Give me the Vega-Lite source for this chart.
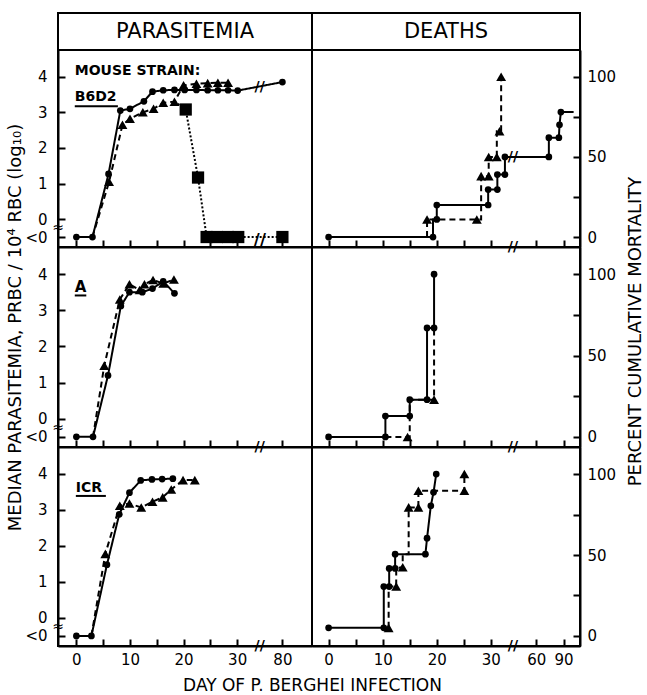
{
  "$schema": "https://vega.github.io/schema/vega-lite/v6.json",
  "padding": {"left": 5, "top": 12, "right": 2, "bottom": 2},
  "background": "white",
  "config": {
    "font": "DejaVu Sans",
    "view": {"stroke": "black", "strokeWidth": 2},
    "concat": {"spacing": 0},
    "axis": {"domainColor": "black", "domainWidth": 2, "tickColor": "black", "tickWidth": 2, "tickSize": -7, "labelColor": "black", "labelFont": "DejaVu Sans", "labelFontSize": 15, "titleColor": "black", "titleFont": "DejaVu Sans", "titleFontWeight": "normal", "grid": false, "labelOverlap": false, "labelSeparation": -100, "labelFlush": false},
    "axisBottom": {"labelPadding": 13},
    "axisLeft": {"labelPadding": 18},
    "axisRight": {"labelPadding": 14}
  },
  "datasets": {
    "obs": [
      {"s":"B6D2","p":"P","g":"circle","i":1,"day":0,"v":-0.5,"o":true},
      {"s":"B6D2","p":"P","g":"circle","i":2,"day":3,"v":-0.5,"o":true},
      {"s":"B6D2","p":"P","g":"circle","i":3,"day":6,"v":1.27,"o":true},
      {"s":"B6D2","p":"P","g":"circle","i":4,"day":8.2,"v":3.05,"o":true},
      {"s":"B6D2","p":"P","g":"circle","i":5,"day":10,"v":3.1,"o":true},
      {"s":"B6D2","p":"P","g":"circle","i":6,"day":12.6,"v":3.31,"o":true},
      {"s":"B6D2","p":"P","g":"circle","i":7,"day":14.2,"v":3.58,"o":true},
      {"s":"B6D2","p":"P","g":"circle","i":8,"day":16.2,"v":3.62,"o":true},
      {"s":"B6D2","p":"P","g":"circle","i":9,"day":18.3,"v":3.63,"o":true},
      {"s":"B6D2","p":"P","g":"circle","i":10,"day":20.2,"v":3.63,"o":true},
      {"s":"B6D2","p":"P","g":"circle","i":11,"day":22.4,"v":3.63,"o":true},
      {"s":"B6D2","p":"P","g":"circle","i":12,"day":24.5,"v":3.62,"o":true},
      {"s":"B6D2","p":"P","g":"circle","i":13,"day":26.4,"v":3.62,"o":true},
      {"s":"B6D2","p":"P","g":"circle","i":14,"day":28.3,"v":3.62,"o":true},
      {"s":"B6D2","p":"P","g":"circle","i":15,"day":30.1,"v":3.61,"o":true},
      {"s":"B6D2","p":"P","g":"circle","i":16,"day":80,"v":3.85,"o":true},
      {"s":"B6D2","p":"P","g":"triangle","i":1,"day":3,"v":-0.5,"o":false},
      {"s":"B6D2","p":"P","g":"triangle","i":2,"day":6.1,"v":1.05,"o":true},
      {"s":"B6D2","p":"P","g":"triangle","i":3,"day":8.6,"v":2.65,"o":true},
      {"s":"B6D2","p":"P","g":"triangle","i":4,"day":10,"v":2.82,"o":true},
      {"s":"B6D2","p":"P","g":"triangle","i":5,"day":12.4,"v":3.0,"o":true},
      {"s":"B6D2","p":"P","g":"triangle","i":6,"day":14.4,"v":3.1,"o":true},
      {"s":"B6D2","p":"P","g":"triangle","i":7,"day":16.2,"v":3.27,"o":true},
      {"s":"B6D2","p":"P","g":"triangle","i":8,"day":18.3,"v":3.3,"o":true},
      {"s":"B6D2","p":"P","g":"triangle","i":9,"day":20,"v":3.76,"o":true},
      {"s":"B6D2","p":"P","g":"triangle","i":10,"day":22.4,"v":3.8,"o":true},
      {"s":"B6D2","p":"P","g":"triangle","i":11,"day":24.5,"v":3.82,"o":true},
      {"s":"B6D2","p":"P","g":"triangle","i":12,"day":26.4,"v":3.83,"o":true},
      {"s":"B6D2","p":"P","g":"triangle","i":13,"day":28.3,"v":3.83,"o":true},
      {"s":"B6D2","p":"P","g":"square","i":1,"day":18.3,"v":3.3,"o":false},
      {"s":"B6D2","p":"P","g":"square","i":2,"day":20.4,"v":3.08,"o":true},
      {"s":"B6D2","p":"P","g":"square","i":3,"day":22.7,"v":1.17,"o":true},
      {"s":"B6D2","p":"P","g":"square","i":4,"day":24.3,"v":-0.5,"o":true},
      {"s":"B6D2","p":"P","g":"square","i":5,"day":26.2,"v":-0.5,"o":true},
      {"s":"B6D2","p":"P","g":"square","i":6,"day":28.3,"v":-0.5,"o":true},
      {"s":"B6D2","p":"P","g":"square","i":7,"day":30.2,"v":-0.5,"o":true},
      {"s":"B6D2","p":"P","g":"square","i":8,"day":80,"v":-0.5,"o":true},
      {"s":"A","p":"P","g":"circle","i":1,"day":0,"v":-0.5,"o":true},
      {"s":"A","p":"P","g":"circle","i":2,"day":3.1,"v":-0.5,"o":true},
      {"s":"A","p":"P","g":"circle","i":3,"day":5.9,"v":1.2,"o":true},
      {"s":"A","p":"P","g":"circle","i":4,"day":8.3,"v":3.12,"o":true},
      {"s":"A","p":"P","g":"circle","i":5,"day":9.9,"v":3.5,"o":true},
      {"s":"A","p":"P","g":"circle","i":6,"day":12.3,"v":3.5,"o":true},
      {"s":"A","p":"P","g":"circle","i":7,"day":14.2,"v":3.6,"o":true},
      {"s":"A","p":"P","g":"circle","i":8,"day":16.2,"v":3.8,"o":true},
      {"s":"A","p":"P","g":"circle","i":9,"day":18.3,"v":3.47,"o":true},
      {"s":"A","p":"P","g":"triangle","i":1,"day":3.1,"v":-0.5,"o":false},
      {"s":"A","p":"P","g":"triangle","i":2,"day":5.2,"v":1.47,"o":true},
      {"s":"A","p":"P","g":"triangle","i":3,"day":8.1,"v":3.3,"o":true},
      {"s":"A","p":"P","g":"triangle","i":4,"day":9.9,"v":3.72,"o":true},
      {"s":"A","p":"P","g":"triangle","i":5,"day":11.8,"v":3.56,"o":true},
      {"s":"A","p":"P","g":"triangle","i":6,"day":12.7,"v":3.72,"o":true},
      {"s":"A","p":"P","g":"triangle","i":7,"day":14.3,"v":3.84,"o":true},
      {"s":"A","p":"P","g":"triangle","i":8,"day":16.2,"v":3.74,"o":true},
      {"s":"A","p":"P","g":"triangle","i":9,"day":18.2,"v":3.85,"o":true},
      {"s":"ICR","p":"P","g":"circle","i":1,"day":0,"v":-0.5,"o":true},
      {"s":"ICR","p":"P","g":"circle","i":2,"day":2.8,"v":-0.5,"o":true},
      {"s":"ICR","p":"P","g":"circle","i":3,"day":5.7,"v":1.48,"o":true},
      {"s":"ICR","p":"P","g":"circle","i":4,"day":8,"v":2.88,"o":true},
      {"s":"ICR","p":"P","g":"circle","i":5,"day":9.9,"v":3.48,"o":true},
      {"s":"ICR","p":"P","g":"circle","i":6,"day":12,"v":3.82,"o":true},
      {"s":"ICR","p":"P","g":"circle","i":7,"day":14.1,"v":3.85,"o":true},
      {"s":"ICR","p":"P","g":"circle","i":8,"day":16,"v":3.86,"o":true},
      {"s":"ICR","p":"P","g":"circle","i":9,"day":18,"v":3.87,"o":true},
      {"s":"ICR","p":"P","g":"triangle","i":1,"day":2.8,"v":-0.5,"o":false},
      {"s":"ICR","p":"P","g":"triangle","i":2,"day":5.4,"v":1.78,"o":true},
      {"s":"ICR","p":"P","g":"triangle","i":3,"day":8.1,"v":3.12,"o":true},
      {"s":"ICR","p":"P","g":"triangle","i":4,"day":9.9,"v":3.18,"o":true},
      {"s":"ICR","p":"P","g":"triangle","i":5,"day":12.1,"v":3.07,"o":true},
      {"s":"ICR","p":"P","g":"triangle","i":6,"day":14.2,"v":3.23,"o":true},
      {"s":"ICR","p":"P","g":"triangle","i":7,"day":16.1,"v":3.35,"o":true},
      {"s":"ICR","p":"P","g":"triangle","i":8,"day":17.7,"v":3.57,"o":true},
      {"s":"ICR","p":"P","g":"triangle","i":9,"day":19.9,"v":3.83,"o":true},
      {"s":"ICR","p":"P","g":"triangle","i":10,"day":22.1,"v":3.83,"o":true},
      {"s":"B6D2","p":"D","g":"circle","i":1,"day":0,"v":0,"o":true},
      {"s":"B6D2","p":"D","g":"circle","i":2,"day":19.3,"v":0,"o":true},
      {"s":"B6D2","p":"D","g":"circle","i":3,"day":19.3,"v":11,"o":false},
      {"s":"B6D2","p":"D","g":"circle","i":4,"day":20,"v":11,"o":true},
      {"s":"B6D2","p":"D","g":"circle","i":5,"day":20,"v":20,"o":true},
      {"s":"B6D2","p":"D","g":"circle","i":6,"day":29.5,"v":20,"o":true},
      {"s":"B6D2","p":"D","g":"circle","i":7,"day":29.5,"v":29.6,"o":true},
      {"s":"B6D2","p":"D","g":"circle","i":8,"day":31.2,"v":29.6,"o":true},
      {"s":"B6D2","p":"D","g":"circle","i":9,"day":31.2,"v":39,"o":true},
      {"s":"B6D2","p":"D","g":"circle","i":10,"day":32.6,"v":39,"o":true},
      {"s":"B6D2","p":"D","g":"circle","i":11,"day":32.6,"v":50,"o":true},
      {"s":"B6D2","p":"D","g":"circle","i":12,"day":73.8,"v":50,"o":true},
      {"s":"B6D2","p":"D","g":"circle","i":13,"day":73.8,"v":62,"o":true},
      {"s":"B6D2","p":"D","g":"circle","i":14,"day":84.8,"v":62,"o":true},
      {"s":"B6D2","p":"D","g":"circle","i":15,"day":85.5,"v":70,"o":true},
      {"s":"B6D2","p":"D","g":"circle","i":16,"day":87,"v":78,"o":true},
      {"s":"B6D2","p":"D","g":"circle","i":17,"day":101,"v":78,"o":false},
      {"s":"B6D2","p":"D","g":"triangle","i":1,"day":18.2,"v":0,"o":false},
      {"s":"B6D2","p":"D","g":"triangle","i":2,"day":18.2,"v":11,"o":true},
      {"s":"B6D2","p":"D","g":"triangle","i":3,"day":27.4,"v":11,"o":true},
      {"s":"B6D2","p":"D","g":"triangle","i":4,"day":28.2,"v":11,"o":false},
      {"s":"B6D2","p":"D","g":"triangle","i":5,"day":28.2,"v":38,"o":true},
      {"s":"B6D2","p":"D","g":"triangle","i":6,"day":29.6,"v":38,"o":true},
      {"s":"B6D2","p":"D","g":"triangle","i":7,"day":29.6,"v":50,"o":true},
      {"s":"B6D2","p":"D","g":"triangle","i":8,"day":31.1,"v":50,"o":true},
      {"s":"B6D2","p":"D","g":"triangle","i":9,"day":31.1,"v":66,"o":false},
      {"s":"B6D2","p":"D","g":"triangle","i":10,"day":31.6,"v":66,"o":true},
      {"s":"B6D2","p":"D","g":"triangle","i":11,"day":31.9,"v":66,"o":false},
      {"s":"B6D2","p":"D","g":"triangle","i":12,"day":31.9,"v":100,"o":true},
      {"s":"A","p":"D","g":"circle","i":1,"day":0,"v":0,"o":true},
      {"s":"A","p":"D","g":"circle","i":2,"day":10.5,"v":0,"o":true},
      {"s":"A","p":"D","g":"circle","i":3,"day":10.5,"v":12.8,"o":true},
      {"s":"A","p":"D","g":"circle","i":4,"day":15,"v":12.8,"o":true},
      {"s":"A","p":"D","g":"circle","i":5,"day":15,"v":22.9,"o":true},
      {"s":"A","p":"D","g":"circle","i":6,"day":18.2,"v":22.9,"o":true},
      {"s":"A","p":"D","g":"circle","i":7,"day":18.2,"v":67,"o":true},
      {"s":"A","p":"D","g":"circle","i":8,"day":19.5,"v":67,"o":true},
      {"s":"A","p":"D","g":"circle","i":9,"day":19.5,"v":100,"o":true},
      {"s":"A","p":"D","g":"triangle","i":1,"day":10.5,"v":0,"o":false},
      {"s":"A","p":"D","g":"triangle","i":2,"day":14.6,"v":0,"o":true},
      {"s":"A","p":"D","g":"triangle","i":3,"day":15,"v":0,"o":false},
      {"s":"A","p":"D","g":"triangle","i":4,"day":15,"v":22.9,"o":false},
      {"s":"A","p":"D","g":"triangle","i":5,"day":19.5,"v":22.9,"o":true},
      {"s":"A","p":"D","g":"triangle","i":6,"day":19.5,"v":67,"o":false},
      {"s":"ICR","p":"D","g":"circle","i":1,"day":0,"v":5,"o":true},
      {"s":"ICR","p":"D","g":"circle","i":2,"day":10.2,"v":5,"o":true},
      {"s":"ICR","p":"D","g":"circle","i":3,"day":10.2,"v":30.5,"o":true},
      {"s":"ICR","p":"D","g":"circle","i":4,"day":11.2,"v":30.5,"o":true},
      {"s":"ICR","p":"D","g":"circle","i":5,"day":11.2,"v":41.7,"o":true},
      {"s":"ICR","p":"D","g":"circle","i":6,"day":12.3,"v":41.7,"o":true},
      {"s":"ICR","p":"D","g":"circle","i":7,"day":12.3,"v":50.5,"o":true},
      {"s":"ICR","p":"D","g":"circle","i":8,"day":17.9,"v":50.5,"o":true},
      {"s":"ICR","p":"D","g":"circle","i":9,"day":18.2,"v":60.4,"o":true},
      {"s":"ICR","p":"D","g":"circle","i":10,"day":18.9,"v":80.4,"o":true},
      {"s":"ICR","p":"D","g":"circle","i":11,"day":19.4,"v":88.7,"o":true},
      {"s":"ICR","p":"D","g":"circle","i":12,"day":19.9,"v":100,"o":true},
      {"s":"ICR","p":"D","g":"triangle","i":1,"day":11.1,"v":5,"o":true},
      {"s":"ICR","p":"D","g":"triangle","i":2,"day":11.1,"v":30.5,"o":false},
      {"s":"ICR","p":"D","g":"triangle","i":3,"day":12.5,"v":30.5,"o":true},
      {"s":"ICR","p":"D","g":"triangle","i":4,"day":12.5,"v":42,"o":false},
      {"s":"ICR","p":"D","g":"triangle","i":5,"day":13.7,"v":42.4,"o":true},
      {"s":"ICR","p":"D","g":"triangle","i":6,"day":13.7,"v":50.5,"o":false},
      {"s":"ICR","p":"D","g":"triangle","i":7,"day":14.8,"v":50.5,"o":false},
      {"s":"ICR","p":"D","g":"triangle","i":8,"day":14.8,"v":79.4,"o":true},
      {"s":"ICR","p":"D","g":"triangle","i":9,"day":16.6,"v":79.4,"o":true},
      {"s":"ICR","p":"D","g":"triangle","i":10,"day":16.6,"v":89.7,"o":true},
      {"s":"ICR","p":"D","g":"triangle","i":11,"day":25.1,"v":89.7,"o":true},
      {"s":"ICR","p":"D","g":"triangle","i":12,"day":25.1,"v":100,"o":true}
    ]
  },
  "concat": [
    {"width": 254, "height": 37, "data": {"values": [{"h": "PARASITEMIA"}]},
     "layer": [
      {"mark": {"type": "rect", "fill": "white", "fillOpacity": 0, "stroke": "black", "strokeWidth": 2}, "encoding": {}},
      {"mark": {"type": "text", "fontSize": 21, "color": "black"}, "encoding": {"text": {"field": "h", "type": "nominal"}}}
     ]},
    {"width": 268, "height": 37, "data": {"values": [{"h": "DEATHS"}]},
     "layer": [
      {"mark": {"type": "rect", "fill": "white", "fillOpacity": 0, "stroke": "black", "strokeWidth": 2}, "encoding": {}},
      {"mark": {"type": "text", "fontSize": 21, "color": "black"}, "encoding": {"text": {"field": "h", "type": "nominal"}}}
     ]},

    {"width": 254, "height": 197, "data": {"name": "obs"},
     "layer": [
      {"transform": [{"filter": "datum.s === 'B6D2' && datum.p === 'P'"}],
       "mark": {"type": "line", "color": "black", "strokeWidth": 2},
       "encoding": {
        "x": {"field": "day", "type": "quantitative", "scale": {"domain": [-3.43, 34, 80, 85.6], "range": [0, 200.6, 224.4, 254], "nice": false, "zero": false}, "axis": {"values": [0,5,10,15,20,25,30,80], "tickCount": 50, "format": "d", "labels": false, "title": null, "labelOverlap": false}},
        "y": {"field": "v", "type": "quantitative", "scale": {"domain": [-0.78, 4.75], "nice": false, "zero": false}, "axis": {"orient": "left", "values": [-0.5,0,1,2,3,4], "tickCount": 50, "format": "d", "labelExpr": "datum.value < 0 ? '<0' : datum.label", "title": null, "labelOverlap": false}},
        "strokeDash": {"field": "g", "type": "nominal", "scale": {"domain": ["circle","triangle","square"], "range": [[1,0],[6,4],[2,2]]}, "legend": null},
        "order": {"field": "i", "type": "quantitative"}
       }},
      {"transform": [{"filter": "datum.s === 'B6D2' && datum.p === 'P' && datum.o"}],
       "mark": {"type": "point", "filled": true, "color": "black", "opacity": 1},
       "encoding": {
        "x": {"field": "day", "type": "quantitative"},
        "y": {"field": "v", "type": "quantitative"},
        "shape": {"field": "g", "type": "nominal", "scale": {"domain": ["circle","triangle","square"], "range": ["circle","triangle-up","square"]}, "legend": null},
        "size": {"field": "g", "type": "nominal", "scale": {"domain": ["circle","triangle","square"], "range": [45, 150, 85]}, "legend": null}
       }},
      {"data": {"values": [{}]}, "mark": {"type": "text", "align": "left", "baseline": "middle", "fontSize": 14, "fontWeight": "bold", "color": "black"}, "encoding": {"x": {"datum": -0.3}, "y": {"datum": 4.15}, "text": {"value": "MOUSE STRAIN:"}}},
      {"data": {"values": [{}]}, "mark": {"type": "text", "align": "left", "baseline": "middle", "fontSize": 14, "fontWeight": "bold", "color": "black"}, "encoding": {"x": {"datum": -0.3}, "y": {"datum": 3.43}, "text": {"value": "B6D2"}}},
      {"data": {"values": [{}]}, "mark": {"type": "rule", "strokeWidth": 2, "color": "black"}, "encoding": {"x": {"datum": -0.3}, "x2": {"datum": 7.75}, "y": {"datum": 3.17}}},
      {"data": {"values": [{"y": 3.72}]}, "mark": {"type": "text", "fontSize": 14, "fontWeight": "bold", "color": "black"}, "encoding": {"x": {"datum": 36}, "y": {"field": "y", "type": "quantitative"}, "text": {"value": "//"}}},
      {"data": {"values": [{"y": -0.62}]}, "mark": {"type": "text", "fontSize": 17, "fontWeight": "bold", "color": "black"}, "encoding": {"x": {"datum": 36}, "y": {"field": "y", "type": "quantitative"}, "text": {"value": "//"}}},
      {"data": {"values": [{}]}, "mark": {"type": "text", "fontSize": 14, "color": "black"}, "encoding": {"x": {"datum": -3.43}, "y": {"datum": -0.25}, "text": {"value": "≈"}}}
     ]},
    {"width": 268, "height": 197, "data": {"name": "obs"},
     "layer": [
      {"transform": [{"filter": "datum.s === 'B6D2' && datum.p === 'D'"}],
       "mark": {"type": "line", "color": "black", "strokeWidth": 2},
       "encoding": {
        "x": {"field": "day", "type": "quantitative", "scale": {"domain": [-3.07, 34, 60, 90, 108], "range": [0, 200.5, 224.3, 251.6, 268], "nice": false, "zero": false}, "axis": {"values": [0,5,10,15,20,25,30,60,90], "tickCount": 50, "format": "d", "labels": false, "title": null, "labelOverlap": false}},
        "y": {"field": "v", "type": "quantitative", "scale": {"domain": [-6.2, 116.7], "nice": false, "zero": false}, "axis": {"orient": "right", "values": [0,25,50,75,100], "tickCount": 50, "format": "d", "labelExpr": "datum.value % 50 === 0 ? datum.label : ''", "title": null, "labelOverlap": false}},
        "strokeDash": {"field": "g", "type": "nominal", "scale": {"domain": ["circle","triangle","square"], "range": [[1,0],[6,4],[2,2]]}, "legend": null},
        "order": {"field": "i", "type": "quantitative"}
       }},
      {"transform": [{"filter": "datum.s === 'B6D2' && datum.p === 'D' && datum.o"}],
       "mark": {"type": "point", "filled": true, "color": "black", "opacity": 1},
       "encoding": {
        "x": {"field": "day", "type": "quantitative"},
        "y": {"field": "v", "type": "quantitative"},
        "shape": {"field": "g", "type": "nominal", "scale": {"domain": ["circle","triangle","square"], "range": ["circle","triangle-up","square"]}, "legend": null},
        "size": {"field": "g", "type": "nominal", "scale": {"domain": ["circle","triangle","square"], "range": [45, 150, 85]}, "legend": null}
       }},
      {"data": {"values": [{"y": -6.2}, {"y": 50}]}, "mark": {"type": "text", "fontSize": 14, "fontWeight": "bold", "color": "black"}, "encoding": {"x": {"datum": 34.5}, "y": {"field": "y", "type": "quantitative"}, "text": {"value": "//"}}}
     ]},

    {"width": 254, "height": 200, "data": {"name": "obs"},
     "layer": [
      {"transform": [{"filter": "datum.s === 'A' && datum.p === 'P'"}],
       "mark": {"type": "line", "color": "black", "strokeWidth": 2},
       "encoding": {
        "x": {"field": "day", "type": "quantitative", "scale": {"domain": [-3.43, 34, 80, 85.6], "range": [0, 200.6, 224.4, 254], "nice": false, "zero": false}, "axis": {"values": [0,5,10,15,20,25,30,80], "tickCount": 50, "format": "d", "labels": false, "title": null, "labelOverlap": false}},
        "y": {"field": "v", "type": "quantitative", "scale": {"domain": [-0.78, 4.75], "nice": false, "zero": false}, "axis": {"orient": "left", "values": [-0.5,0,1,2,3,4], "tickCount": 50, "format": "d", "labelExpr": "datum.value < 0 ? '<0' : datum.label", "labelOverlap": false, "title": "MEDIAN PARASITEMIA, PRBC / 10⁴ RBC (log₁₀)", "titleFontSize": 18, "titleY": 80, "titlePadding": 0}},
        "strokeDash": {"field": "g", "type": "nominal", "scale": {"domain": ["circle","triangle","square"], "range": [[1,0],[6,4],[2,2]]}, "legend": null},
        "order": {"field": "i", "type": "quantitative"}
       }},
      {"transform": [{"filter": "datum.s === 'A' && datum.p === 'P' && datum.o"}],
       "mark": {"type": "point", "filled": true, "color": "black", "opacity": 1},
       "encoding": {
        "x": {"field": "day", "type": "quantitative"},
        "y": {"field": "v", "type": "quantitative"},
        "shape": {"field": "g", "type": "nominal", "scale": {"domain": ["circle","triangle","square"], "range": ["circle","triangle-up","square"]}, "legend": null},
        "size": {"field": "g", "type": "nominal", "scale": {"domain": ["circle","triangle","square"], "range": [45, 150, 85]}, "legend": null}
       }},
      {"data": {"values": [{}]}, "mark": {"type": "text", "align": "left", "baseline": "middle", "fontSize": 15, "fontWeight": "bold", "color": "black"}, "encoding": {"x": {"datum": -0.3}, "y": {"datum": 3.64}, "text": {"value": "A"}}},
      {"data": {"values": [{}]}, "mark": {"type": "rule", "strokeWidth": 2, "color": "black"}, "encoding": {"x": {"datum": -0.3}, "x2": {"datum": 1.85}, "y": {"datum": 3.41}}},
      {"data": {"values": [{"y": -0.78}]}, "mark": {"type": "text", "fontSize": 14, "fontWeight": "bold", "color": "black"}, "encoding": {"x": {"datum": 36}, "y": {"field": "y", "type": "quantitative"}, "text": {"value": "//"}}},
      {"data": {"values": [{}]}, "mark": {"type": "text", "fontSize": 14, "color": "black"}, "encoding": {"x": {"datum": -3.43}, "y": {"datum": -0.25}, "text": {"value": "≈"}}}
     ]},
    {"width": 268, "height": 200, "data": {"name": "obs"},
     "layer": [
      {"transform": [{"filter": "datum.s === 'A' && datum.p === 'D'"}],
       "mark": {"type": "line", "color": "black", "strokeWidth": 2},
       "encoding": {
        "x": {"field": "day", "type": "quantitative", "scale": {"domain": [-3.07, 34, 60, 90, 108], "range": [0, 200.5, 224.3, 251.6, 268], "nice": false, "zero": false}, "axis": {"values": [0,5,10,15,20,25,30,60,90], "tickCount": 50, "format": "d", "labels": false, "title": null, "labelOverlap": false}},
        "y": {"field": "v", "type": "quantitative", "scale": {"domain": [-6.2, 116.7], "nice": false, "zero": false}, "axis": {"orient": "right", "values": [0,25,50,75,100], "tickCount": 50, "format": "d", "labelExpr": "datum.value % 50 === 0 ? datum.label : ''", "labelOverlap": false, "title": "PERCENT CUMULATIVE MORTALITY", "titleFontSize": 18, "titleAngle": -90, "titleBaseline": "top", "titleY": 84, "titlePadding": 11}},
        "strokeDash": {"field": "g", "type": "nominal", "scale": {"domain": ["circle","triangle","square"], "range": [[1,0],[6,4],[2,2]]}, "legend": null},
        "order": {"field": "i", "type": "quantitative"}
       }},
      {"transform": [{"filter": "datum.s === 'A' && datum.p === 'D' && datum.o"}],
       "mark": {"type": "point", "filled": true, "color": "black", "opacity": 1},
       "encoding": {
        "x": {"field": "day", "type": "quantitative"},
        "y": {"field": "v", "type": "quantitative"},
        "shape": {"field": "g", "type": "nominal", "scale": {"domain": ["circle","triangle","square"], "range": ["circle","triangle-up","square"]}, "legend": null},
        "size": {"field": "g", "type": "nominal", "scale": {"domain": ["circle","triangle","square"], "range": [45, 150, 85]}, "legend": null}
       }},
      {"data": {"values": [{"y": -6.2}]}, "mark": {"type": "text", "fontSize": 14, "fontWeight": "bold", "color": "black"}, "encoding": {"x": {"datum": 34.5}, "y": {"field": "y", "type": "quantitative"}, "text": {"value": "//"}}}
     ]},

    {"width": 254, "height": 199, "data": {"name": "obs"},
     "layer": [
      {"transform": [{"filter": "datum.s === 'ICR' && datum.p === 'P'"}],
       "mark": {"type": "line", "color": "black", "strokeWidth": 2},
       "encoding": {
        "x": {"field": "day", "type": "quantitative", "scale": {"domain": [-3.43, 34, 80, 85.6], "range": [0, 200.6, 224.4, 254], "nice": false, "zero": false}, "axis": {"values": [0,5,10,15,20,25,30,80], "tickCount": 50, "format": "d", "labelExpr": "datum.value % 10 === 0 ? datum.label : ''", "labelOverlap": false, "title": "DAY OF P. BERGHEI INFECTION", "titleFontSize": 17, "titleX": 254, "titlePadding": 10}},
        "y": {"field": "v", "type": "quantitative", "scale": {"domain": [-0.78, 4.75], "nice": false, "zero": false}, "axis": {"orient": "left", "values": [-0.5,0,1,2,3,4], "tickCount": 50, "format": "d", "labelExpr": "datum.value < 0 ? '<0' : datum.label", "title": null, "labelOverlap": false}},
        "strokeDash": {"field": "g", "type": "nominal", "scale": {"domain": ["circle","triangle","square"], "range": [[1,0],[6,4],[2,2]]}, "legend": null},
        "order": {"field": "i", "type": "quantitative"}
       }},
      {"transform": [{"filter": "datum.s === 'ICR' && datum.p === 'P' && datum.o"}],
       "mark": {"type": "point", "filled": true, "color": "black", "opacity": 1},
       "encoding": {
        "x": {"field": "day", "type": "quantitative"},
        "y": {"field": "v", "type": "quantitative"},
        "shape": {"field": "g", "type": "nominal", "scale": {"domain": ["circle","triangle","square"], "range": ["circle","triangle-up","square"]}, "legend": null},
        "size": {"field": "g", "type": "nominal", "scale": {"domain": ["circle","triangle","square"], "range": [45, 150, 85]}, "legend": null}
       }},
      {"data": {"values": [{}]}, "mark": {"type": "text", "align": "left", "baseline": "middle", "fontSize": 14, "fontWeight": "bold", "color": "black"}, "encoding": {"x": {"datum": -0.1}, "y": {"datum": 3.6}, "text": {"value": "ICR"}}},
      {"data": {"values": [{}]}, "mark": {"type": "rule", "strokeWidth": 2, "color": "black"}, "encoding": {"x": {"datum": -0.1}, "x2": {"datum": 5.5}, "y": {"datum": 3.39}}},
      {"data": {"values": [{"y": -0.78}]}, "mark": {"type": "text", "fontSize": 14, "fontWeight": "bold", "color": "black"}, "encoding": {"x": {"datum": 36}, "y": {"field": "y", "type": "quantitative"}, "text": {"value": "//"}}},
      {"data": {"values": [{}]}, "mark": {"type": "text", "fontSize": 14, "color": "black"}, "encoding": {"x": {"datum": -3.43}, "y": {"datum": -0.25}, "text": {"value": "≈"}}}
     ]},
    {"width": 268, "height": 199, "data": {"name": "obs"},
     "layer": [
      {"transform": [{"filter": "datum.s === 'ICR' && datum.p === 'D'"}],
       "mark": {"type": "line", "color": "black", "strokeWidth": 2},
       "encoding": {
        "x": {"field": "day", "type": "quantitative", "scale": {"domain": [-3.07, 34, 60, 90, 108], "range": [0, 200.5, 224.3, 251.6, 268], "nice": false, "zero": false}, "axis": {"values": [0,5,10,15,20,25,30,60,90], "tickCount": 50, "format": "d", "labelExpr": "datum.value % 10 === 0 ? datum.label : ''", "title": null, "labelOverlap": false}},
        "y": {"field": "v", "type": "quantitative", "scale": {"domain": [-6.2, 116.7], "nice": false, "zero": false}, "axis": {"orient": "right", "values": [0,25,50,75,100], "tickCount": 50, "format": "d", "labelExpr": "datum.value % 50 === 0 ? datum.label : ''", "title": null, "labelOverlap": false}},
        "strokeDash": {"field": "g", "type": "nominal", "scale": {"domain": ["circle","triangle","square"], "range": [[1,0],[6,4],[2,2]]}, "legend": null},
        "order": {"field": "i", "type": "quantitative"}
       }},
      {"transform": [{"filter": "datum.s === 'ICR' && datum.p === 'D' && datum.o"}],
       "mark": {"type": "point", "filled": true, "color": "black", "opacity": 1},
       "encoding": {
        "x": {"field": "day", "type": "quantitative"},
        "y": {"field": "v", "type": "quantitative"},
        "shape": {"field": "g", "type": "nominal", "scale": {"domain": ["circle","triangle","square"], "range": ["circle","triangle-up","square"]}, "legend": null},
        "size": {"field": "g", "type": "nominal", "scale": {"domain": ["circle","triangle","square"], "range": [45, 150, 85]}, "legend": null}
       }},
      {"data": {"values": [{"y": -6.2}]}, "mark": {"type": "text", "fontSize": 14, "fontWeight": "bold", "color": "black"}, "encoding": {"x": {"datum": 34.5}, "y": {"field": "y", "type": "quantitative"}, "text": {"value": "//"}}}
     ]}
  ],
  "columns": 2,
  "spacing": 0,
  "bounds": "flush"
}
